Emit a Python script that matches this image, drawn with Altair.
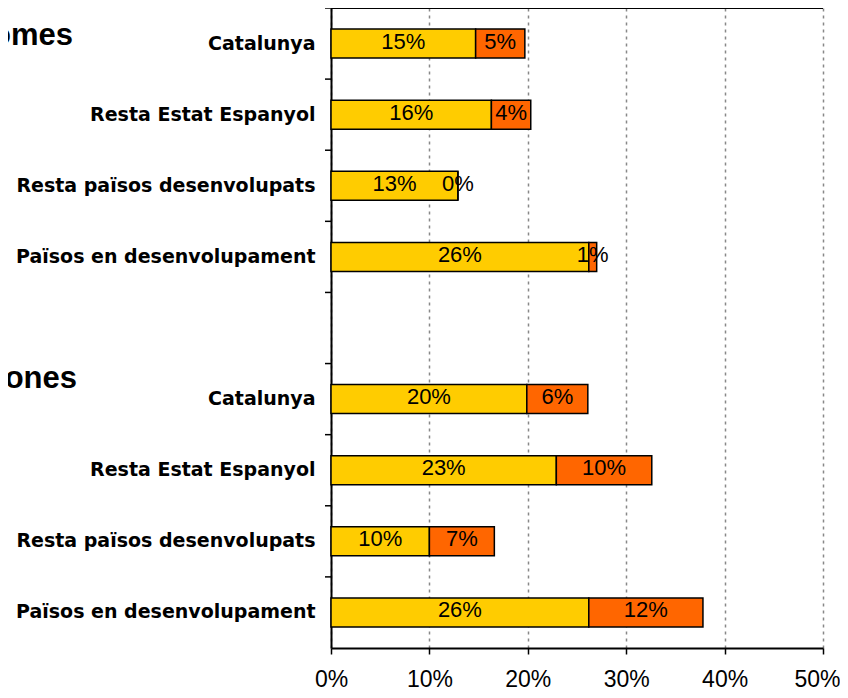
import altair as alt
import pandas as pd

groups = ["Homes", "Dones"]
regions = ["Catalunya", "Resta Estat Espanyol", "Resta països desenvolupats", "Països en desenvolupament"]
homes_yellow = [14.7, 16.3, 12.9, 26.2]
homes_orange = [5.0, 4.0, 0.0, 0.8]
dones_yellow = [19.9, 22.9, 10.0, 26.2]
dones_orange = [6.2, 9.7, 6.6, 11.6]
segments = ["a", "b"]
colors = ["#FFCC00", "#FF6600"]
x_ticks = [0, 10, 20, 30, 40, 50]

rows = []
for g, ys, os_ in [(groups[0], homes_yellow, homes_orange), (groups[1], dones_yellow, dones_orange)]:
    for r, yv, ov in zip(regions, ys, os_):
        start = 0.0
        for seg, v in zip(segments, [yv, ov]):
            rows.append(dict(key=f"{g}|{r}", group=g, seg=seg, start=start,
                             end=start + v, mid=start + v / 2, label=f"{round(v)}%"))
            start += v
df = pd.DataFrame(rows)

domain = [f"{groups[0]}|{r}" for r in regions] + ["gap"] + [f"{groups[1]}|{r}" for r in regions]
slots = pd.DataFrame({"key": domain})
titles = pd.DataFrame({"key": [f"{g}|{regions[0]}" for g in groups], "title": groups})

y_scale = alt.Scale(domain=domain, paddingInner=0, paddingOuter=0)
y_enc = alt.Y("key:N", sort=None, scale=y_scale,
              axis=alt.Axis(title=None,
                            labelExpr="indexof(datum.value,'|')>=0 ? split(datum.value,'|')[1] : ''",
                            ticks=False, domainColor="black", domainWidth=2,
                            labelFont="DejaVu Sans", labelFontWeight="bold", labelFontSize=19,
                            labelColor="black", labelPadding=16, labelLimit=400))

x_scale = alt.Scale(domain=[0, 50], nice=False)

bars = alt.Chart(df).mark_bar(size=29, stroke="black", strokeWidth=1.5).encode(
    x=alt.X("start:Q", scale=x_scale,
            axis=alt.Axis(values=x_ticks, labelExpr="datum.value + '%'", title=None,
                          grid=True, gridDash=[3, 4], gridColor="#888888", gridWidth=1.5,
                          domainColor="black", domainWidth=2, tickColor="black",
                          tickSize=6, tickWidth=1.5, labelFontSize=23, labelFlush=False,
                          labelOffset={"condition": {"test": "datum.value == 50", "value": -6}, "value": 0},
                          labelFont="Liberation Sans", labelPadding=14, labelColor="black")),
    x2="end:Q",
    y=y_enc,
    color=alt.Color("seg:N", scale=alt.Scale(domain=segments, range=colors), legend=None),
)

labels = alt.Chart(df).mark_text(font="Liberation Sans", fontSize=22, baseline="middle",
                                 dy=-2, color="black").encode(
    x=alt.X("mid:Q"),
    y=alt.Y("key:N", sort=None),
    text="label:N",
)

yticks = alt.Chart(slots).mark_rule(color="black", strokeWidth=1.5).encode(
    x=alt.value(-6), x2=alt.value(0),
    y=alt.Y("key:N", sort=None, bandPosition=0),
)

title_h = alt.Chart(titles).transform_filter(alt.datum.title == groups[0]).mark_text(
    font="Liberation Sans", fontSize=31, fontWeight="bold", align="right",
    baseline="alphabetic", dy=1, color="black").encode(
    x=alt.value(-258), y=alt.Y("key:N", sort=None), text="title:N")

title_d = alt.Chart(titles).transform_filter(alt.datum.title == groups[1]).mark_text(
    font="Liberation Sans", fontSize=31, fontWeight="bold", align="right",
    baseline="alphabetic", dy=-11, color="black").encode(
    x=alt.value(-254), y=alt.Y("key:N", sort=None), text="title:N")

top = alt.Chart(slots).mark_rule(color="black", strokeWidth=1.5).encode(
    x=alt.value(0), x2=alt.value(492), y=alt.value(0))

chart = alt.layer(bars, labels, yticks, title_h, title_d, top).properties(
    width=492, height=640,
    autosize=alt.AutoSizeParams(type="none"),
    padding={"left": 323, "top": 0, "right": 17, "bottom": 42},
    background="white",
).configure_view(stroke=None)

chart.save("out.html", embed_options={"renderer": "svg", "actions": False})
